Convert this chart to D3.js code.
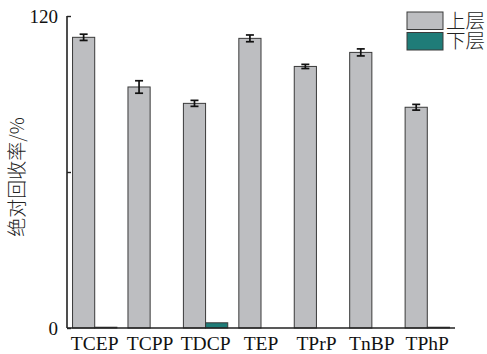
<!DOCTYPE html>
<html>
<head>
<meta charset="utf-8">
<script src="https://cdn.jsdelivr.net/npm/d3@7"></script>
<style>
  html, body { margin: 0; padding: 0; background: #fff; }
  svg { display: block; }
</style>
</head>
<body>
<svg id="chart" width="487" height="354"></svg>
<script>
// Absolute recovery of organophosphate esters in upper / lower layer
const categories = ["TCEP", "TCPP", "TDCP", "TEP", "TPrP", "TnBP", "TPhP"];
const upperValues = [111.8, 92.7, 86.4, 111.4, 100.6, 106.0, 84.9];
const upperErrors = [1.2, 2.4, 1.15, 1.3, 0.8, 1.35, 1.1];
const lowerValues = [0.3, 0, 2.0, 0, 0, 0, 0.3];
const seriesNames = ["上层", "下层"];
const yTicks = [0, 60, 120];
const yTickLabels = ["0", "", "120"];
const yLabel = "绝对回收率/%";

const svg = d3.select("#chart");
const plotLeft = 67, plotRight = 455, plotTop = 16, plotBottom = 328;
const colors = ["#bdbec1", "#1f7c78"];
const serif = "'Liberation Serif', 'Times New Roman', serif";
const cjk = "'Noto Sans CJK SC', sans-serif";

const x0 = d3.scaleBand().domain(categories).range([plotLeft, plotRight])
  .paddingInner(0.2).paddingOuter(0.1);
const x1 = d3.scaleBand().domain([0, 1]).range([0, x0.bandwidth()]);
const y = d3.scaleLinear().domain([0, 120]).range([plotBottom, plotTop]);

const rows = categories.map((c, i) => ({
  cat: c,
  vals: [upperValues[i], lowerValues[i]],
  err: upperErrors[i]
}));

const groups = svg.append("g").selectAll("g").data(rows).join("g")
  .attr("transform", d => `translate(${x0(d.cat)},0)`);

// bars
groups.selectAll("rect").data(d => d.vals.map((v, k) => ({ v, k }))).join("rect")
  .attr("x", d => x1(d.k))
  .attr("y", d => y(d.v))
  .attr("width", x1.bandwidth())
  .attr("height", d => y(0) - y(d.v))
  .attr("fill", d => colors[d.k])
  .attr("stroke", "#3a3a3a")
  .attr("stroke-width", d => d.v > 0 ? 1 : 0);

// error bars on upper layer
const cx = x1(0) + x1.bandwidth() / 2;
const eb = groups.append("g").attr("stroke", "#111").attr("stroke-width", 1.7);
eb.append("line")
  .attr("x1", cx).attr("x2", cx)
  .attr("y1", d => y(d.vals[0] + d.err)).attr("y2", d => y(d.vals[0] - d.err));
[1, -1].forEach(s => {
  eb.append("line")
    .attr("x1", cx - 4).attr("x2", cx + 4)
    .attr("y1", d => y(d.vals[0] + s * d.err)).attr("y2", d => y(d.vals[0] + s * d.err));
});

// y axis, ticks inward
const yAxis = svg.append("g").attr("transform", `translate(${plotLeft},0)`)
  .call(d3.axisLeft(y).tickValues(yTicks).tickSize(-4).tickPadding(9)
    .tickFormat((d, i) => yTickLabels[i]));
yAxis.select(".domain").attr("d", `M0,${plotTop}V${plotBottom}`).attr("stroke", "#222").attr("stroke-width", 1.6);
yAxis.selectAll(".tick line").attr("stroke", "#222").attr("stroke-width", 1.4);
yAxis.selectAll(".tick text").attr("font-family", serif).attr("font-size", 19).attr("fill", "#111");

// x axis
const xAxis = svg.append("g").attr("transform", `translate(0,${plotBottom})`)
  .call(d3.axisBottom(x0).tickSize(0).tickPadding(8));
xAxis.select(".domain").attr("d", `M${plotLeft},0H${plotRight}`).attr("stroke", "#222").attr("stroke-width", 1.6);
xAxis.selectAll(".tick text").attr("font-family", serif).attr("font-size", 19.5).attr("fill", "#111")
  .attr("dy", "0.71em");

// y label
svg.append("text")
  .attr("transform", `translate(24,177) rotate(-90)`)
  .attr("text-anchor", "middle")
  .attr("font-family", cjk).attr("font-weight", 300).attr("font-size", 19).attr("fill", "#222")
  .text(yLabel);

// legend
const lg = svg.append("g").attr("transform", "translate(407,12)");
seriesNames.forEach((n, k) => {
  lg.append("rect").attr("x", 0).attr("y", k * 20.5).attr("width", 36).attr("height", 17.5)
    .attr("fill", colors[k]).attr("stroke", "#3a3a3a").attr("stroke-width", 1);
  lg.append("text").attr("x", 39).attr("y", k * 20.5 + 15.5)
    .attr("font-family", cjk).attr("font-weight", 300).attr("font-size", 19.5).attr("fill", "#222")
    .text(n);
});
</script>
</body>
</html>
